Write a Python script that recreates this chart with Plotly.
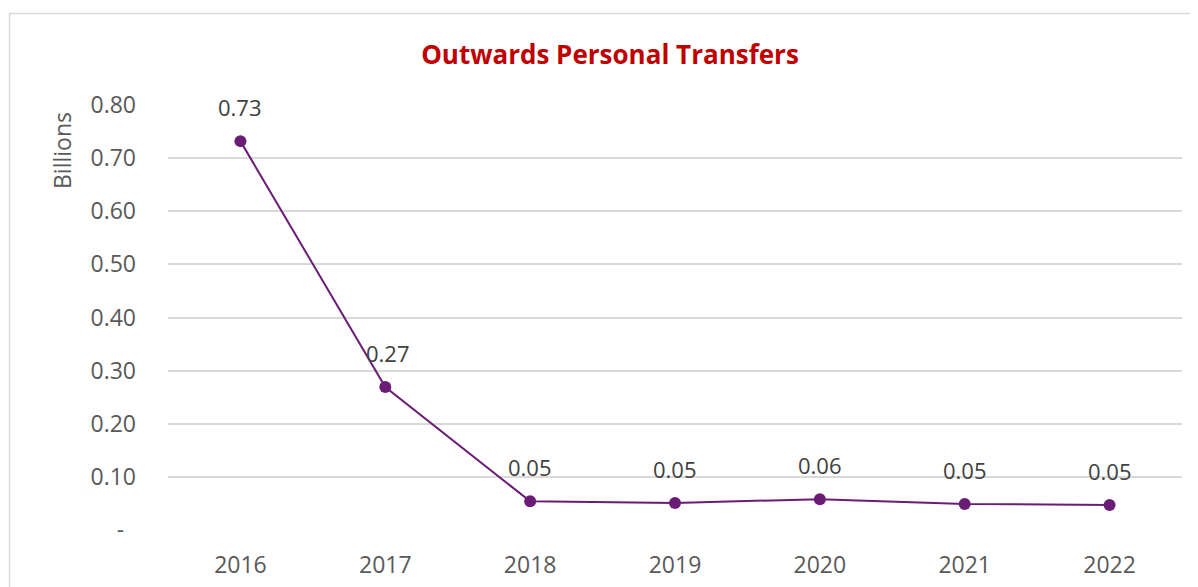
import plotly.graph_objects as go

years = [2016, 2017, 2018, 2019, 2020, 2021, 2022]
values = [0.732, 0.269, 0.054, 0.051, 0.058, 0.049, 0.047]
labels = ["0.73", "0.27", "0.05", "0.05", "0.06", "0.05", "0.05"]
ytick_vals = [0, 0.1, 0.2, 0.3, 0.4, 0.5, 0.6, 0.7, 0.8]
ytick_text = ["-\u00a0\u00a0", "0.10", "0.20", "0.30", "0.40", "0.50", "0.60", "0.70", "0.80"]

FONT = "'Open Sans', Lato, sans-serif"
LINE = "#6b1d76"

# page offset of the figure (body margin) is compensated below
OFF = 8
W, H = 1198 - OFF, 587 - OFF
ml, mr, mt, mb = 168 - OFF, 16, 105 - OFF, 57
pw, ph = W - ml - mr, H - mt - mb

def px_x(p):
    return (p - OFF - ml) / pw

def px_y(p):
    return (H - mb - (p - OFF)) / ph

fig = go.Figure()
fig.add_trace(go.Scatter(
    x=years, y=values, mode="lines+markers",
    line=dict(color=LINE, width=2),
    marker=dict(color=LINE, size=12),
    showlegend=False, hoverinfo="skip",
))

for i, (yr, v, t) in enumerate(zip(years, values, labels)):
    fig.add_annotation(x=yr, y=v, text=t, showarrow=False, yshift=34,
                       xshift=3 if i == 1 else 0,
                       font=dict(family=FONT, size=22, color="#404040"))

fig.add_annotation(xref="paper", yref="paper", x=px_x(62), y=px_y(151),
                   text="Billions", textangle=-90, showarrow=False,
                   xanchor="center", yanchor="middle",
                   font=dict(family=FONT, size=23, color="#595959"))

fig.add_shape(type="rect", xref="paper", yref="paper",
              x0=px_x(9.5), x1=px_x(1215), y0=px_y(13.5), y1=px_y(620),
              line=dict(color="#d9d9d9", width=1.5), layer="below")

fig.update_layout(
    width=W, height=H,
    margin=dict(l=ml, r=mr, t=mt, b=mb),
    paper_bgcolor="white", plot_bgcolor="white",
    title=dict(text="<b>Outwards Personal Transfers</b>", x=(610 - OFF) / W,
               xanchor="center", y=1 - (55 - OFF) / H, yanchor="middle",
               font=dict(family=FONT, size=26, color="#c00000")),
    font=dict(family=FONT, color="#595959"),
)
fig.update_xaxes(range=[2015.5, 2022.5], tickvals=years, showgrid=False,
                 showline=False, zeroline=False, ticks="", automargin=False,
                 tickfont=dict(family=FONT, size=23, color="#595959"),
                 ticklabelstandoff=19)
fig.update_yaxes(range=[0, 0.8], tickvals=ytick_vals, ticktext=ytick_text,
                 showgrid=True, gridcolor="#d9d9d9", gridwidth=1.5, zeroline=False,
                 showline=False, ticks="", automargin=False,
                 tickfont=dict(family=FONT, size=23, color="#595959"),
                 ticklabelstandoff=31)

fig.write_html("out.html")
